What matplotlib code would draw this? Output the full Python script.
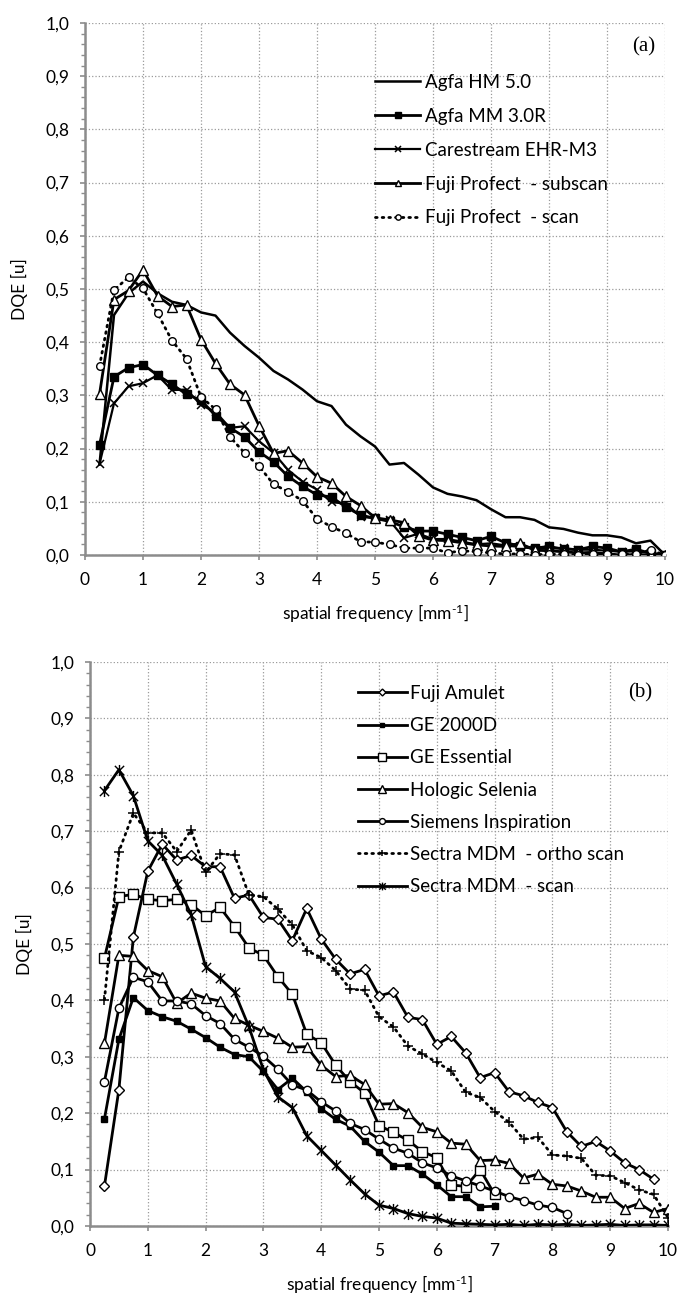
import matplotlib as mpl
mpl.use('Agg')
import matplotlib.pyplot as plt
from matplotlib.path import Path
from matplotlib.ticker import FuncFormatter, MultipleLocator

######################
## data
######################

freq = [0.25 * k for k in range(1, 41)]   # 0.25 .. 10.0 mm^-1

# panel (a)
agfa_hm = [0.17, 0.451, 0.492, 0.514, 0.492, 0.476, 0.47, 0.456, 0.45, 0.418,
           0.393, 0.371, 0.346, 0.33, 0.311, 0.289, 0.28, 0.245, 0.223, 0.204,
           0.17, 0.173, 0.151, 0.127, 0.115, 0.11, 0.103, 0.086, 0.071, 0.071,
           0.066, 0.052, 0.049, 0.042, 0.037, 0.037, 0.033, 0.022, 0.027, 0.0]
agfa_mm = [0.207, 0.335, 0.352, 0.358, 0.338, 0.321, 0.302, 0.291, 0.262, 0.239,
           0.222, 0.194, 0.175, 0.148, 0.129, 0.113, 0.109, 0.09, 0.075, 0.069,
           0.063, 0.053, 0.045, 0.045, 0.039, 0.033, 0.027, 0.035, 0.023, 0.017,
           0.013, 0.016, 0.011, 0.01, 0.016, 0.013, 0.006, 0.011, 0.003, 0.0]
carestream = [0.171, 0.285, 0.317, 0.323, 0.338, 0.31, 0.311, 0.282, 0.269, 0.239,
              0.242, 0.214, 0.192, 0.16, 0.138, 0.123, 0.099, 0.097, 0.072, 0.069,
              0.065, 0.032, 0.04, 0.03, 0.03, 0.025, 0.02, 0.022, 0.018, 0.015,
              0.012, 0.012, 0.013, 0.01, 0.01, 0.008, 0.006, 0.007, 0.004, 0.0]
fuji_subscan = [0.302, 0.48, 0.497, 0.536, 0.487, 0.467, 0.47, 0.405, 0.36, 0.321,
                0.301, 0.243, 0.191, 0.196, 0.173, 0.147, 0.135, 0.11, 0.093, 0.07,
                0.066, 0.061, 0.036, 0.028, 0.027, 0.023, 0.019, 0.017, 0.016, 0.022,
                0.009, 0.008, 0.006, 0.004, 0.005, 0.002, 0.0, 0.001, 0.0, 0.0]
fuji_scan = [0.355, 0.498, 0.522, 0.501, 0.454, 0.403, 0.369, 0.297, 0.274, 0.222,
             0.192, 0.167, 0.133, 0.119, 0.102, 0.068, 0.053, 0.041, 0.025, 0.024,
             0.02, 0.013, 0.013, 0.013, 0.004, 0.008, 0.006, 0.004, 0.002, 0.002,
             0.0, 0.002, 0.001, 0.0, 0.002, 0.001, 0.001, 0.002, 0.009, 0.0]

# panel (b)
fuji_amulet = [0.071, 0.242, 0.512, 0.629, 0.677, 0.649, 0.657, 0.637, 0.637, 0.581,
               0.587, 0.547, 0.544, 0.506, 0.563, 0.509, 0.473, 0.447, 0.455, 0.408,
               0.415, 0.37, 0.366, 0.322, 0.336, 0.307, 0.263, 0.272, 0.238, 0.231,
               0.219, 0.21, 0.167, 0.141, 0.15, 0.133, 0.112, 0.1, 0.083]
ge_2000d = [0.19, 0.331, 0.405, 0.382, 0.371, 0.363, 0.349, 0.334, 0.317, 0.304,
            0.3, 0.274, 0.242, 0.262, 0.238, 0.208, 0.189, 0.177, 0.15, 0.131,
            0.107, 0.107, 0.092, 0.073, 0.052, 0.052, 0.034, 0.035]
ge_essential = [0.475, 0.584, 0.588, 0.579, 0.577, 0.579, 0.57, 0.55, 0.565, 0.531,
                0.493, 0.48, 0.442, 0.411, 0.34, 0.325, 0.285, 0.256, 0.236, 0.178,
                0.166, 0.152, 0.132, 0.121, 0.073, 0.07, 0.1, 0.056]
hologic = [0.324, 0.48, 0.478, 0.453, 0.442, 0.395, 0.413, 0.404, 0.399, 0.368,
           0.356, 0.345, 0.333, 0.317, 0.318, 0.285, 0.265, 0.267, 0.251, 0.216,
           0.217, 0.201, 0.175, 0.167, 0.147, 0.145, 0.116, 0.117, 0.111, 0.085,
           0.092, 0.074, 0.071, 0.062, 0.051, 0.051, 0.031, 0.04, 0.024, 0.031]
siemens = [0.256, 0.386, 0.441, 0.433, 0.399, 0.399, 0.394, 0.373, 0.359, 0.331,
           0.317, 0.301, 0.278, 0.25, 0.241, 0.22, 0.204, 0.182, 0.171, 0.154,
           0.138, 0.129, 0.112, 0.103, 0.089, 0.08, 0.071, 0.062, 0.052, 0.045,
           0.037, 0.033, 0.022]
sectra_ortho = [0.401, 0.664, 0.732, 0.697, 0.697, 0.664, 0.702, 0.627, 0.66, 0.658,
                0.587, 0.584, 0.562, 0.534, 0.488, 0.476, 0.453, 0.42, 0.418, 0.371,
                0.353, 0.319, 0.305, 0.29, 0.275, 0.237, 0.228, 0.203, 0.184, 0.154,
                0.157, 0.126, 0.124, 0.12, 0.09, 0.089, 0.077, 0.064, 0.056, 0.015]
sectra_scan = [0.772, 0.809, 0.763, 0.683, 0.657, 0.606, 0.552, 0.46, 0.439, 0.415,
               0.353, 0.277, 0.229, 0.21, 0.16, 0.134, 0.108, 0.082, 0.057, 0.037,
               0.031, 0.022, 0.017, 0.014, 0.005, 0.004, 0.003, 0.002, 0.003, 0.001,
               0.003, 0.002, 0.003, 0.001, 0.002, 0.003, 0.001, 0.002, 0.002, 0.001]

x_ticks = list(range(0, 11))

######################
## setup matplotlib
######################

plt.rcParams['font.family'] = ['Lato', 'DejaVu Sans']
plt.rcParams['mathtext.fontset'] = 'custom'
plt.rcParams['mathtext.rm'] = 'Lato'
plt.rcParams['mathtext.it'] = 'Lato:italic'

TICK_FS = 12.5
LAB_FS = 12.5
LEG_FS = 13.5
GREY = '#8c8c8c'

# Excel style "star" marker: an x with a vertical bar through it
star = Path([(-1, -1), (1, 1), (-1, 1), (1, -1), (0, -1.2), (0, 1.2)],
            [Path.MOVETO, Path.LINETO, Path.MOVETO, Path.LINETO, Path.MOVETO, Path.LINETO])

dotted = dict(ls=(0, (0.6, 1.8)), dash_capstyle='round')
open_mk = dict(mfc='white', mec='black', mew=1.0)


def style_axes(ax):
    ax.set_xlim(0, 10)
    ax.set_ylim(0, 1.0)
    ax.xaxis.set_major_locator(MultipleLocator(1))
    ax.yaxis.set_major_locator(MultipleLocator(0.1))
    ax.yaxis.set_minor_locator(MultipleLocator(0.02))
    ax.yaxis.set_major_formatter(FuncFormatter(lambda v, p: '{:.1f}'.format(v).replace('.', ',')))
    ax.grid(True, which='major', ls=':', lw=0.9, color='#9a9a9a', zorder=0)
    for s in ['top', 'right']:
        ax.spines[s].set_visible(False)
    for s in ['left', 'bottom']:
        ax.spines[s].set_color(GREY)
        ax.spines[s].set_linewidth(1.8)
    ax.tick_params(axis='both', which='major', direction='out', length=3.5, width=1.2,
                   color=GREY, labelsize=TICK_FS)
    ax.tick_params(axis='y', which='minor', direction='out', length=3, width=1.0, color=GREY)
    ax.tick_params(axis='y', pad=8)
    ax.tick_params(axis='x', pad=9)
    ax.set_xticks(x_ticks)
    ax.set_xlabel('spatial frequency [mm$^{\\text{-}1}$]', fontsize=LAB_FS, labelpad=10)
    ax.set_ylabel('DQE [u]', fontsize=LAB_FS, labelpad=12)


fig = plt.figure(figsize=(6.81, 13.07), dpi=100)

######################
## panel (a)
######################

ax1 = fig.add_axes([85 / 681, 1 - 555 / 1307, 580 / 681, 532 / 1307])
ax1.plot(freq, agfa_hm, color='black', lw=1.8, label='Agfa HM 5.0', zorder=3)
ax1.plot(freq, agfa_mm, color='black', lw=2.0, marker='s', ms=5.5, label='Agfa MM 3.0R', zorder=3)
ax1.plot(freq, carestream, color='black', lw=1.6, marker='x', ms=5.5, mew=1.1, label='Carestream EHR-M3', zorder=3)
ax1.plot(freq, fuji_subscan, color='black', lw=2.0, marker='^', ms=7, label='Fuji Profect  - subscan', zorder=3, **open_mk)
ax1.plot(freq, fuji_scan, color='black', lw=2.0, marker='o', ms=5.5, label='Fuji Profect  - scan', zorder=3, **open_mk, **dotted)
style_axes(ax1)
ax1.legend(loc='upper left', bbox_to_anchor=((375 - 85) / 580, (555 - 74) / 532), frameon=False,
           fontsize=LEG_FS, borderpad=0, borderaxespad=0, handlelength=2.4, handletextpad=0.27,
           labelspacing=0.9, markerscale=0.7)
ax1.text(0.964, 0.956, '(a)', transform=ax1.transAxes, ha='center', va='center',
         fontsize=15, family='Liberation Serif')

######################
## panel (b)
######################

ax2 = fig.add_axes([90 / 681, 1 - 1226 / 1307, 578 / 681, 564 / 1307])
ax2.plot(freq[:len(fuji_amulet)], fuji_amulet, color='black', lw=2.0, marker='D', ms=5, label='Fuji Amulet', zorder=3, **open_mk)
ax2.plot(freq[:len(ge_2000d)], ge_2000d, color='black', lw=2.0, marker='s', ms=4.5, label='GE 2000D', zorder=3)
ax2.plot(freq[:len(ge_essential)], ge_essential, color='black', lw=2.0, marker='s', ms=7.5, label='GE Essential', zorder=3, **open_mk)
ax2.plot(freq, hologic, color='black', lw=2.0, marker='^', ms=7.5, label='Hologic Selenia', zorder=3, **open_mk)
ax2.plot(freq[:len(siemens)], siemens, color='black', lw=2.0, marker='o', ms=6, label='Siemens Inspiration', zorder=3, **open_mk)
ax2.plot(freq, sectra_ortho, color='black', lw=2.0, marker='+', ms=7, mew=1.1, label='Sectra MDM  - ortho scan', zorder=3, **dotted)
ax2.plot(freq, sectra_scan, color='black', lw=2.0, marker=star, ms=8, mew=1.0, fillstyle='none',
         label='Sectra MDM  - scan', zorder=3)
style_axes(ax2)
ax2.legend(loc='upper left', bbox_to_anchor=((358 - 90) / 578, (1226 - 685) / 564), frameon=False,
           fontsize=LEG_FS, borderpad=0, borderaxespad=0, handlelength=2.6, handletextpad=0.2,
           labelspacing=0.81, markerscale=0.7)
ax2.text(0.952, 0.946, '(b)', transform=ax2.transAxes, ha='center', va='center',
         fontsize=15, family='Liberation Serif')

fig.savefig('out.png', dpi=100)
